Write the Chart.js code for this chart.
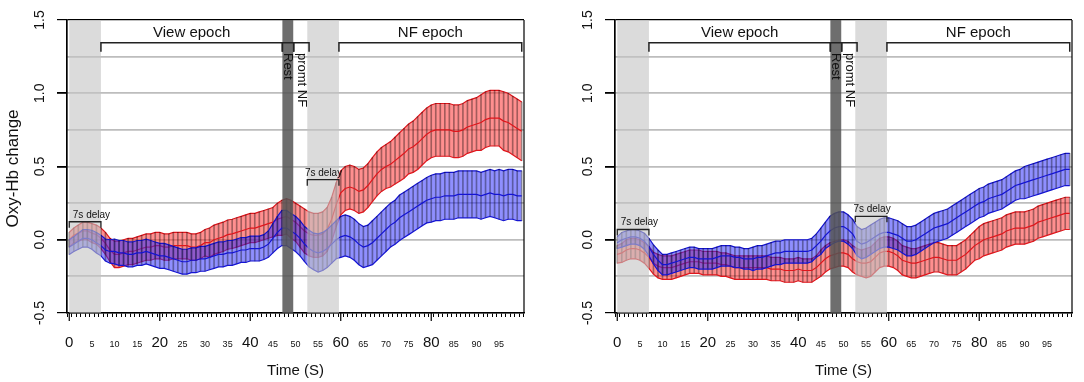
<!DOCTYPE html>
<html>
<head>
<meta charset="utf-8">
<script src="https://cdn.jsdelivr.net/npm/chart.js@4"></script>
<style>
  body { margin: 0; background: #fff; }
  #wrap { position: relative; width: 1084px; height: 382px; }
  canvas { position: absolute; top: 0; }
</style>
</head>
<body>
<div id="wrap">
  <canvas id="left" width="542" height="382" style="left:0"></canvas>
  <canvas id="right" width="542" height="382" style="left:542px"></canvas>
</div>
<script>
// time axis, 1 s steps
const seconds = Array.from({length: 101}, (_, i) => i);

// left panel
const leftRedMean = [
  0.00, 0.03, 0.045, 0.06, 0.06, 0.045, 0.035, 0.01, -0.025, -0.07,
  -0.10, -0.10, -0.09, -0.08, -0.08, -0.07, -0.06, -0.05, -0.05, -0.04,
  -0.04, -0.05, -0.05, -0.04, -0.04, -0.04, -0.04, -0.05, -0.05, -0.04,
  -0.02, -0.02, 0.00, 0.01, 0.02, 0.035, 0.04, 0.05, 0.06, 0.07,
  0.08, 0.08, 0.09, 0.10, 0.11, 0.12, 0.14, 0.15, 0.16, 0.14,
  0.12, 0.09, 0.06, 0.04, 0.03, 0.03, 0.04, 0.07, 0.14, 0.24,
  0.32, 0.35, 0.36, 0.35, 0.33, 0.34, 0.37, 0.41, 0.45, 0.48,
  0.50, 0.515, 0.54, 0.565, 0.59, 0.62, 0.635, 0.66, 0.69, 0.72,
  0.74, 0.75, 0.75, 0.75, 0.75, 0.74, 0.74, 0.75, 0.77, 0.78,
  0.79, 0.80, 0.82, 0.83, 0.83, 0.83, 0.81, 0.80, 0.78, 0.76,
  0.74
];
const leftRedSE = [
  0.05, 0.05, 0.055, 0.06, 0.06, 0.065, 0.065, 0.07, 0.075, 0.08,
  0.09, 0.09, 0.09, 0.09, 0.09, 0.09, 0.09, 0.09, 0.09, 0.09,
  0.09, 0.09, 0.09, 0.09, 0.09, 0.09, 0.09, 0.09, 0.09, 0.09,
  0.09, 0.10, 0.10, 0.10, 0.10, 0.10, 0.10, 0.10, 0.10, 0.10,
  0.10, 0.10, 0.10, 0.10, 0.10, 0.10, 0.11, 0.12, 0.12, 0.13,
  0.13, 0.14, 0.15, 0.15, 0.15, 0.15, 0.15, 0.15, 0.15, 0.15,
  0.15, 0.15, 0.15, 0.15, 0.15, 0.15, 0.15, 0.15, 0.15, 0.15,
  0.15, 0.155, 0.16, 0.165, 0.17, 0.17, 0.175, 0.18, 0.18, 0.18,
  0.18, 0.18, 0.18, 0.18, 0.18, 0.18, 0.18, 0.18, 0.18, 0.18,
  0.18, 0.19, 0.19, 0.19, 0.19, 0.19, 0.20, 0.20, 0.20, 0.20,
  0.20
];
const leftBlueMean = [
  -0.05, -0.03, -0.01, 0.01, 0.01, 0.00, -0.02, -0.04, -0.07, -0.08,
  -0.08, -0.09, -0.09, -0.10, -0.10, -0.09, -0.09, -0.08, -0.09, -0.10,
  -0.11, -0.11, -0.12, -0.13, -0.14, -0.15, -0.15, -0.14, -0.14, -0.13,
  -0.13, -0.12, -0.11, -0.10, -0.10, -0.09, -0.09, -0.08, -0.07, -0.07,
  -0.06, -0.06, -0.06, -0.05, -0.03, 0.01, 0.05, 0.08, 0.08, 0.06,
  0.04, 0.01, -0.03, -0.06, -0.08, -0.09, -0.08, -0.06, -0.03, 0.00,
  0.02, 0.03, 0.02, 0.00, -0.03, -0.05, -0.04, -0.02, 0.01, 0.04,
  0.07, 0.10, 0.12, 0.15, 0.17, 0.19, 0.21, 0.23, 0.25, 0.27,
  0.28, 0.29, 0.29, 0.30, 0.30, 0.30, 0.31, 0.31, 0.31, 0.31,
  0.31, 0.30, 0.31, 0.32, 0.31, 0.31, 0.30, 0.31, 0.31, 0.30,
  0.30
];
const leftBlueSE = [
  0.05, 0.05, 0.055, 0.06, 0.06, 0.065, 0.07, 0.07, 0.075, 0.08,
  0.085, 0.085, 0.085, 0.085, 0.085, 0.085, 0.085, 0.085, 0.085, 0.085,
  0.085, 0.085, 0.085, 0.085, 0.085, 0.085, 0.085, 0.085, 0.085, 0.085,
  0.085, 0.085, 0.085, 0.085, 0.085, 0.085, 0.085, 0.085, 0.085, 0.085,
  0.085, 0.085, 0.085, 0.085, 0.09, 0.10, 0.11, 0.12, 0.12, 0.12,
  0.12, 0.12, 0.12, 0.125, 0.125, 0.13, 0.13, 0.13, 0.13, 0.13,
  0.14, 0.14, 0.14, 0.14, 0.14, 0.14, 0.14, 0.15, 0.15, 0.15,
  0.15, 0.15, 0.15, 0.155, 0.155, 0.155, 0.155, 0.155, 0.155, 0.155,
  0.16, 0.16, 0.16, 0.16, 0.16, 0.16, 0.16, 0.16, 0.16, 0.16,
  0.16, 0.16, 0.16, 0.16, 0.16, 0.17, 0.17, 0.17, 0.17, 0.17,
  0.17
];

// right panel
const rightRedMean = [
  -0.10, -0.09, -0.07, -0.06, -0.06, -0.07, -0.09, -0.12, -0.16, -0.18,
  -0.19, -0.19, -0.19, -0.18, -0.17, -0.16, -0.15, -0.15, -0.15, -0.16,
  -0.16, -0.16, -0.16, -0.17, -0.17, -0.18, -0.19, -0.19, -0.19, -0.19,
  -0.19, -0.19, -0.19, -0.19, -0.20, -0.20, -0.20, -0.21, -0.21, -0.21,
  -0.20, -0.21, -0.21, -0.21, -0.19, -0.16, -0.13, -0.11, -0.10, -0.09,
  -0.09, -0.10, -0.13, -0.15, -0.16, -0.16, -0.15, -0.12, -0.09, -0.08,
  -0.08, -0.09, -0.11, -0.14, -0.15, -0.16, -0.16, -0.15, -0.14, -0.13,
  -0.12, -0.12, -0.13, -0.14, -0.14, -0.14, -0.12, -0.10, -0.07, -0.04,
  -0.02, 0.00, 0.01, 0.02, 0.03, 0.04, 0.06, 0.07, 0.08, 0.08,
  0.08, 0.09, 0.10, 0.12, 0.13, 0.14, 0.15, 0.16, 0.17, 0.18,
  0.18
];
const rightRedSE = [
  0.06, 0.065, 0.07, 0.07, 0.07, 0.07, 0.07, 0.075, 0.075, 0.08,
  0.08, 0.08, 0.08, 0.08, 0.08, 0.08, 0.08, 0.08, 0.08, 0.08,
  0.08, 0.08, 0.08, 0.08, 0.08, 0.08, 0.08, 0.08, 0.08, 0.08,
  0.08, 0.08, 0.08, 0.08, 0.08, 0.08, 0.08, 0.08, 0.08, 0.08,
  0.08, 0.08, 0.08, 0.08, 0.08, 0.09, 0.09, 0.09, 0.09, 0.09,
  0.09, 0.09, 0.09, 0.09, 0.09, 0.10, 0.10, 0.10, 0.10, 0.10,
  0.10, 0.10, 0.10, 0.10, 0.10, 0.10, 0.10, 0.10, 0.10, 0.10,
  0.10, 0.10, 0.10, 0.10, 0.10, 0.10, 0.10, 0.10, 0.10, 0.10,
  0.11, 0.11, 0.11, 0.11, 0.11, 0.11, 0.11, 0.11, 0.11, 0.11,
  0.11, 0.11, 0.11, 0.11, 0.11, 0.11, 0.11, 0.11, 0.11, 0.11,
  0.11
];
const rightBlueMean = [
  -0.02, 0.00, 0.01, 0.02, 0.02, 0.01, -0.01, -0.05, -0.10, -0.14,
  -0.17, -0.17, -0.16, -0.15, -0.14, -0.13, -0.12, -0.12, -0.13, -0.13,
  -0.13, -0.13, -0.12, -0.11, -0.11, -0.11, -0.12, -0.12, -0.13, -0.13,
  -0.13, -0.12, -0.12, -0.11, -0.10, -0.09, -0.09, -0.08, -0.08, -0.08,
  -0.08, -0.08, -0.08, -0.07, -0.04, -0.01, 0.03, 0.06, 0.08, 0.09,
  0.09, 0.07, 0.04, -0.01, -0.03, -0.02, 0.00, 0.02, 0.04, 0.05,
  0.05, 0.04, 0.03, 0.01, -0.01, -0.01, 0.00, 0.02, 0.04, 0.06,
  0.08, 0.09, 0.10, 0.11, 0.13, 0.15, 0.17, 0.19, 0.21, 0.23,
  0.25, 0.26, 0.28, 0.29, 0.30, 0.31, 0.33, 0.35, 0.37, 0.38,
  0.39, 0.40, 0.41, 0.42, 0.43, 0.44, 0.45, 0.46, 0.47, 0.48,
  0.48
];
const rightBlueSE = [
  0.04, 0.05, 0.05, 0.05, 0.05, 0.05, 0.055, 0.06, 0.065, 0.07,
  0.07, 0.07, 0.07, 0.07, 0.07, 0.07, 0.07, 0.07, 0.07, 0.07,
  0.07, 0.07, 0.07, 0.07, 0.07, 0.07, 0.07, 0.07, 0.07, 0.07,
  0.08, 0.08, 0.08, 0.08, 0.08, 0.08, 0.08, 0.08, 0.08, 0.08,
  0.08, 0.08, 0.08, 0.08, 0.08, 0.09, 0.09, 0.10, 0.10, 0.10,
  0.10, 0.10, 0.10, 0.10, 0.10, 0.10, 0.10, 0.10, 0.10, 0.10,
  0.10, 0.10, 0.10, 0.10, 0.10, 0.10, 0.10, 0.10, 0.10, 0.10,
  0.10, 0.10, 0.10, 0.10, 0.10, 0.10, 0.10, 0.10, 0.10, 0.10,
  0.10, 0.10, 0.10, 0.10, 0.10, 0.10, 0.10, 0.10, 0.10, 0.10,
  0.11, 0.11, 0.11, 0.11, 0.11, 0.11, 0.11, 0.11, 0.11, 0.11,
  0.11
];

// epochs (seconds)
const lightBands = [[0, 7], [52.6, 59.6]];
const restBand = [47.1, 49.5];
const epochs = [
  {from: 7, to: 47.1, label: 'View epoch'},
  {from: 47.1, to: 49.6, label: ''},
  {from: 49.6, to: 53, label: ''},
  {from: 59.6, to: 100, label: 'NF epoch'}
];
const majorTicks = [0, 20, 40, 60, 80];
const minorTicks = [5, 10, 15, 25, 30, 35, 45, 50, 55, 65, 70, 75, 85, 90, 95];
const yLabels = [1.5, 1.0, 0.5, 0.0, -0.5];

const FONT = '"Liberation Sans", Arial, sans-serif';

function band(mean, se, line, fill, order) {
  const upper = seconds.map((t, i) => ({x: t, y: mean[i] + se[i]}));
  const lower = seconds.map((t, i) => ({x: t, y: mean[i] - se[i]}));
  const mid = seconds.map((t, i) => ({x: t, y: mean[i]}));
  const bars = seconds.map((t, i) => ({x: t, y: [mean[i] - se[i], mean[i] + se[i]]}));
  const ln = {type: 'line', borderColor: line, borderWidth: 1.2, pointRadius: 0, tension: 0};
  return [
    {...ln, data: upper, fill: '+1', backgroundColor: fill, order: order + 3},
    {...ln, data: lower, fill: false, order: order + 1},
    {type: 'bar', data: bars, backgroundColor: 'rgba(0,0,0,0.36)', borderWidth: 0,
     barThickness: 1, grouped: false, order: order + 2},
    {...ln, data: mid, fill: false, order: order + 1}
  ];
}

function overlay(panel) {
  return {
    id: 'overlay',
    afterDatasetsDraw(chart) {
      const {ctx, chartArea: a, scales: {x, y}} = chart;
      const px = v => x.getPixelForValue(v);
      const py = v => y.getPixelForValue(v);
      ctx.save();
      ctx.fillStyle = 'rgba(195,195,195,0.6)';
      lightBands.forEach(([s, e]) => ctx.fillRect(px(s), a.top, px(e) - px(s), a.bottom - a.top));
      ctx.fillStyle = 'rgba(85,85,85,0.85)';
      ctx.fillRect(px(restBand[0]), a.top, px(restBand[1]) - px(restBand[0]), a.bottom - a.top);

      // frame
      ctx.strokeStyle = '#000';
      ctx.lineWidth = 1.2;
      ctx.beginPath();
      ctx.moveTo(a.left, a.top); ctx.lineTo(a.left, a.bottom);
      ctx.moveTo(a.right, a.top); ctx.lineTo(a.right, a.bottom);
      ctx.stroke();

      // epoch brackets
      ctx.strokeStyle = '#222';
      ctx.lineWidth = 1.5;
      const by = py(1.345);
      epochs.forEach(ep => {
        ctx.beginPath();
        ctx.moveTo(px(ep.from), by + 9); ctx.lineTo(px(ep.from), by);
        ctx.lineTo(px(ep.to), by); ctx.lineTo(px(ep.to), by + 9);
        ctx.stroke();
      });
      ctx.fillStyle = '#111';
      ctx.font = '15px ' + FONT;
      ctx.textAlign = 'center';
      ctx.textBaseline = 'middle';
      epochs.filter(ep => ep.label).forEach(ep => {
        ctx.fillText(ep.label, px((ep.from + ep.to) / 2), py(1.41));
      });

      // rotated labels
      ctx.font = '13px ' + FONT;
      ctx.textAlign = 'left';
      [['Rest', 48.2], ['promt NF', 51.3]].forEach(([txt, t]) => {
        ctx.save();
        ctx.translate(px(t), a.top + 33);
        ctx.rotate(Math.PI / 2);
        ctx.fillText(txt, 0, 0);
        ctx.restore();
      });

      // 7s delay brackets
      ctx.lineWidth = 1.3;
      ctx.font = '10px ' + FONT;
      ctx.textAlign = 'center';
      ctx.textBaseline = 'alphabetic';
      panel.delays.forEach(d => {
        const yy = py(d.at);
        ctx.beginPath();
        ctx.moveTo(px(d.from), yy + 6); ctx.lineTo(px(d.from), yy);
        ctx.lineTo(px(d.to), yy); ctx.lineTo(px(d.to), yy + 6);
        ctx.stroke();
        ctx.fillText('7s delay', px(d.label), yy - 4);
      });
      ctx.restore();
    },
    afterDraw(chart) {
      const {ctx, chartArea: a, scales: {x, y}} = chart;
      const px = v => x.getPixelForValue(v);
      const py = v => y.getPixelForValue(v);
      ctx.save();
      ctx.strokeStyle = '#000';
      ctx.lineWidth = 1.2;
      majorTicks.forEach(v => {
        ctx.beginPath();
        ctx.moveTo(px(v), a.bottom); ctx.lineTo(px(v), a.bottom + 8);
        ctx.stroke();
      });
      ctx.fillStyle = '#111';
      ctx.textAlign = 'center';
      ctx.textBaseline = 'alphabetic';
      ctx.font = '15px ' + FONT;
      majorTicks.forEach(v => ctx.fillText(String(v), px(v), a.bottom + 34));
      ctx.font = '9px ' + FONT;
      minorTicks.forEach(v => ctx.fillText(String(v), px(v), a.bottom + 34));
      ctx.font = '15px ' + FONT;
      ctx.fillText('Time (S)', (a.left + a.right) / 2, a.bottom + 62);

      ctx.textBaseline = 'middle';
      ctx.font = '14px ' + FONT;
      yLabels.forEach(v => {
        ctx.save();
        ctx.translate(a.left - 27, py(v));
        ctx.rotate(-Math.PI / 2);
        ctx.fillText(v.toFixed(1), 0, 0);
        ctx.restore();
      });
      if (panel.yTitle) {
        ctx.save();
        ctx.font = '17px ' + FONT;
        ctx.translate(13, (a.top + a.bottom) / 2 + 2);
        ctx.rotate(-Math.PI / 2);
        ctx.fillText(panel.yTitle, 0, 0);
        ctx.restore();
      }
      ctx.restore();
    }
  };
}

function makeChart(id, datasets, panel) {
  const half = v => Math.abs(v * 2 - Math.round(v * 2)) < 1e-6;
  const edge = v => Math.abs(v - 1.5) < 1e-6 || Math.abs(v + 0.5) < 1e-6;
  return new Chart(document.getElementById(id), {
    type: 'line',
    data: {datasets},
    options: {
      responsive: false,
      animation: false,
      devicePixelRatio: 1,
      layout: {padding: {left: panel.padLeft, right: panel.padRight, top: 20, bottom: 0}},
      plugins: {legend: {display: false}, tooltip: {enabled: false}},
      scales: {
        x: {
          type: 'linear', min: 0, max: 100,
          afterFit: s => { s.height = 69; },
          ticks: {display: false, stepSize: 1, maxTicksLimit: 200},
          grid: {drawOnChartArea: false, tickLength: 4, color: '#000', lineWidth: 1},
          border: {color: '#000', width: 1.5}
        },
        y: {
          min: -0.5, max: 1.5,
          afterFit: s => { s.width = 10; },
          ticks: {display: false, stepSize: 0.25},
          grid: {
            color: c => edge(c.tick.value) ? '#000' : '#bdbdbd',
            lineWidth: c => edge(c.tick.value) ? 1.2 : 1.8,
            tickColor: c => half(c.tick.value) ? '#000' : 'rgba(0,0,0,0)',
            tickLength: 10
          },
          border: {color: '#000', width: 1.2}
        }
      }
    },
    plugins: [overlay(panel)]
  });
}

const RED = '#e0161c', RED_FILL = 'rgba(255,40,40,0.52)';
const BLUE = '#1414d2', BLUE_FILL = 'rgba(40,40,255,0.52)';

makeChart('left',
  [...band(leftRedMean, leftRedSE, RED, RED_FILL, 5),
   ...band(leftBlueMean, leftBlueSE, BLUE, BLUE_FILL, 0)],
  {padLeft: 57, padRight: 18, yTitle: 'Oxy-Hb change',
   delays: [{from: 0, to: 7, at: 0.123, label: 4.9}, {from: 52.6, to: 59.6, at: 0.41, label: 56.2}]});

makeChart('right',
  [...band(rightRedMean, rightRedSE, RED, RED_FILL, 5),
   ...band(rightBlueMean, rightBlueSE, BLUE, BLUE_FILL, 0)],
  {padLeft: 63, padRight: 12, yTitle: '',
   delays: [{from: 0, to: 7, at: 0.07, label: 4.9}, {from: 52.6, to: 59.6, at: 0.16, label: 56.3}]});
</script>
</body>
</html>
